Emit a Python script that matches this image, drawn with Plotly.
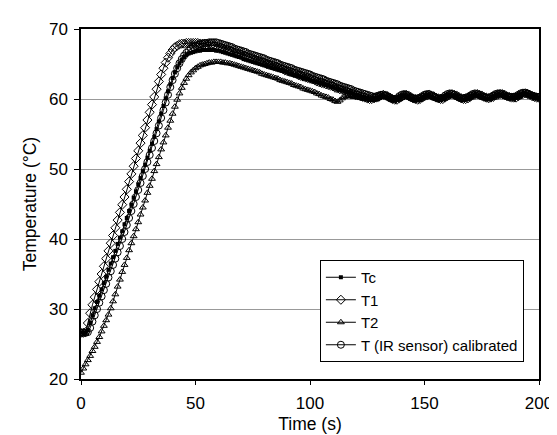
import plotly.graph_objects as go

# Time axis (s), 1 s sampling
TIME = list(range(0, 201))

TC = [
    # 0-60 s
    26.6, 26.6, 26.6, 27.0, 28.0, 29.1, 30.1, 31.0, 31.9, 32.8,
    33.7, 34.6, 35.6, 36.5, 37.4, 38.3, 39.3, 40.2, 41.1, 42.1,
    43.0, 44.0, 44.9, 45.9, 46.8, 47.8, 48.7, 49.7, 50.6, 51.6,
    52.6, 53.6, 54.6, 55.7, 56.8, 57.9, 59.0, 60.1, 61.1, 62.1,
    63.0, 63.8, 64.5, 65.1, 65.6, 66.0, 66.3, 66.5, 66.6, 66.7,
    66.8, 66.9, 66.9, 67.0, 67.0, 67.0, 67.0, 67.0, 67.0, 66.9, 66.9,
    # 61-129 s
    66.8, 66.7, 66.6, 66.5, 66.4, 66.3, 66.2, 66.1, 66.0, 65.9,
    65.7, 65.6, 65.5, 65.4, 65.3, 65.2, 65.1, 65.0, 64.9, 64.8,
    64.7, 64.6, 64.5, 64.4, 64.3, 64.2, 64.1, 64.0, 63.9, 63.8,
    63.6, 63.5, 63.4, 63.3, 63.2, 63.1, 63.0, 62.9, 62.8, 62.7,
    62.6, 62.5, 62.4, 62.3, 62.2, 62.1, 62.0, 61.9, 61.8, 61.7,
    61.5, 61.4, 61.3, 61.2, 61.1, 61.0, 60.9, 60.8, 60.7, 60.6,
    60.5, 60.4, 60.3, 60.2, 60.1, 60.0, 59.9, 59.9, 60.0,
    # 130-200 s
    60.2, 60.4, 60.4, 60.3, 60.1, 59.9, 59.8, 59.8, 59.9, 60.2,
    60.4, 60.5, 60.4, 60.2, 60.0, 59.9, 59.8, 59.9, 60.0, 60.2,
    60.4, 60.5, 60.5, 60.3, 60.1, 60.0, 59.9, 59.9, 60.0, 60.3,
    60.5, 60.6, 60.5, 60.4, 60.2, 60.0, 59.9, 59.9, 60.0, 60.1,
    60.3, 60.5, 60.6, 60.5, 60.4, 60.2, 60.1, 60.0, 60.0, 60.1,
    60.3, 60.5, 60.6, 60.6, 60.5, 60.3, 60.2, 60.1, 60.1, 60.1,
    60.2, 60.4, 60.6, 60.7, 60.7, 60.6, 60.4, 60.3, 60.2, 60.1, 60.1,
]

T1 = [
    # 0-60 s
    26.6, 26.6, 26.7, 28.0, 29.4, 30.6, 31.7, 32.8, 33.9, 35.0,
    36.1, 37.2, 38.3, 39.4, 40.5, 41.6, 42.7, 43.8, 44.9, 46.0,
    47.1, 48.2, 49.3, 50.4, 51.5, 52.6, 53.7, 54.8, 55.9, 57.0,
    58.1, 59.2, 60.3, 61.4, 62.5, 63.5, 64.4, 65.2, 65.9, 66.5,
    67.0, 67.4, 67.6, 67.8, 67.9, 67.9, 68.0, 68.0, 68.0, 68.0,
    68.0, 68.0, 67.9, 67.9, 67.9, 67.8, 67.8, 67.7, 67.6, 67.5, 67.4,
    # 61-129 s
    67.3, 67.2, 67.1, 67.0, 66.9, 66.8, 66.6, 66.5, 66.4, 66.3,
    66.2, 66.1, 66.0, 65.9, 65.7, 65.6, 65.5, 65.4, 65.3, 65.2,
    65.0, 64.9, 64.8, 64.7, 64.6, 64.5, 64.4, 64.3, 64.1, 64.0,
    63.9, 63.8, 63.7, 63.6, 63.4, 63.3, 63.2, 63.1, 63.0, 62.9,
    62.8, 62.7, 62.5, 62.4, 62.3, 62.2, 62.1, 62.0, 61.9, 61.8,
    61.6, 61.5, 61.4, 61.3, 61.2, 61.1, 60.9, 60.8, 60.7, 60.6,
    60.5, 60.4, 60.3, 60.2, 60.1, 60.0, 60.0, 60.1, 60.2,
    # 130-200 s
    60.3, 60.5, 60.6, 60.5, 60.4, 60.2, 60.0, 59.9, 59.9, 60.1,
    60.3, 60.5, 60.6, 60.5, 60.3, 60.1, 60.0, 59.9, 60.0, 60.2,
    60.4, 60.5, 60.6, 60.5, 60.4, 60.2, 60.1, 60.0, 60.0, 60.2,
    60.4, 60.6, 60.7, 60.6, 60.5, 60.3, 60.1, 60.0, 60.0, 60.1,
    60.3, 60.5, 60.6, 60.7, 60.6, 60.5, 60.3, 60.2, 60.1, 60.2,
    60.3, 60.5, 60.6, 60.7, 60.7, 60.6, 60.4, 60.3, 60.2, 60.2,
    60.2, 60.4, 60.6, 60.7, 60.8, 60.7, 60.6, 60.4, 60.3, 60.2, 60.2,
]

T2 = [
    # 0-60 s
    20.9, 21.5, 22.1, 22.7, 23.3, 24.0, 24.6, 25.3, 26.0, 26.8,
    27.6, 28.4, 29.2, 30.1, 31.1, 32.1, 33.2, 34.2, 35.3, 36.3,
    37.3, 38.4, 39.4, 40.4, 41.4, 42.4, 43.5, 44.5, 45.5, 46.6,
    47.6, 48.6, 49.7, 50.7, 51.7, 52.8, 53.8, 54.8, 55.9, 56.9,
    57.9, 58.9, 59.9, 60.8, 61.6, 62.3, 62.9, 63.4, 63.8, 64.1,
    64.4, 64.6, 64.8, 64.9, 65.0, 65.1, 65.2, 65.2, 65.3, 65.3, 65.3,
    # 61-129 s
    65.3, 65.2, 65.2, 65.1, 65.1, 65.0, 64.9, 64.8, 64.7, 64.6,
    64.5, 64.4, 64.3, 64.2, 64.1, 64.0, 63.9, 63.8, 63.6, 63.5,
    63.4, 63.3, 63.2, 63.1, 63.0, 62.9, 62.7, 62.6, 62.5, 62.4,
    62.3, 62.2, 62.0, 61.9, 61.8, 61.7, 61.5, 61.4, 61.3, 61.2,
    61.1, 61.0, 60.8, 60.7, 60.5, 60.4, 60.3, 60.2, 60.0, 59.9,
    59.7, 59.6, 59.8, 60.1, 60.3, 60.4, 60.4, 60.4, 60.3, 60.3,
    60.2, 60.2, 60.1, 60.0, 60.0, 59.9, 59.9, 59.9, 60.0,
    # 130-200 s
    60.2, 60.4, 60.5, 60.5, 60.4, 60.2, 60.0, 59.9, 59.9, 60.0,
    60.2, 60.4, 60.5, 60.4, 60.3, 60.1, 59.9, 59.9, 59.9, 60.1,
    60.3, 60.5, 60.6, 60.5, 60.4, 60.2, 60.0, 60.0, 60.0, 60.2,
    60.4, 60.5, 60.6, 60.5, 60.4, 60.2, 60.1, 60.0, 60.0, 60.1,
    60.3, 60.5, 60.6, 60.6, 60.6, 60.4, 60.3, 60.2, 60.1, 60.1,
    60.2, 60.4, 60.6, 60.7, 60.7, 60.6, 60.4, 60.3, 60.2, 60.2,
    60.2, 60.4, 60.6, 60.7, 60.8, 60.8, 60.7, 60.6, 60.4, 60.3, 60.2,
]

T_IR = [
    # 0-60 s
    26.6, 26.6, 26.6, 26.7, 27.3, 28.2, 29.1, 30.0, 30.9, 31.8,
    32.7, 33.6, 34.5, 35.4, 36.3, 37.2, 38.1, 39.0, 40.0, 41.0,
    42.0, 43.0, 44.0, 45.0, 46.0, 47.0, 48.0, 49.0, 50.0, 51.0,
    52.0, 53.0, 54.0, 55.1, 56.2, 57.3, 58.4, 59.5, 60.6, 61.7,
    62.7, 63.6, 64.4, 65.1, 65.7, 66.2, 66.6, 66.9, 67.2, 67.4,
    67.6, 67.7, 67.8, 67.9, 68.0, 68.0, 68.1, 68.1, 68.1, 68.1, 68.0,
    # 61-129 s
    67.9, 67.8, 67.7, 67.6, 67.5, 67.4, 67.2, 67.1, 67.0, 66.9,
    66.8, 66.7, 66.5, 66.4, 66.3, 66.2, 66.1, 66.0, 65.9, 65.8,
    65.6, 65.5, 65.4, 65.3, 65.2, 65.1, 64.9, 64.8, 64.7, 64.6,
    64.5, 64.4, 64.2, 64.1, 64.0, 63.9, 63.8, 63.7, 63.6, 63.5,
    63.3, 63.2, 63.1, 63.0, 62.9, 62.8, 62.6, 62.5, 62.4, 62.3,
    62.2, 62.1, 61.9, 61.8, 61.7, 61.6, 61.5, 61.4, 61.2, 61.1,
    61.0, 60.9, 60.8, 60.7, 60.6, 60.5, 60.4, 60.3, 60.4,
    # 130-200 s
    60.5, 60.6, 60.6, 60.5, 60.3, 60.1, 60.0, 60.0, 60.1, 60.4,
    60.6, 60.7, 60.6, 60.4, 60.2, 60.1, 60.0, 60.1, 60.2, 60.4,
    60.6, 60.7, 60.7, 60.5, 60.3, 60.2, 60.1, 60.1, 60.2, 60.5,
    60.7, 60.8, 60.7, 60.6, 60.4, 60.2, 60.1, 60.1, 60.2, 60.3,
    60.5, 60.7, 60.8, 60.7, 60.6, 60.4, 60.3, 60.2, 60.2, 60.3,
    60.5, 60.7, 60.8, 60.8, 60.7, 60.5, 60.4, 60.3, 60.3, 60.3,
    60.4, 60.6, 60.8, 60.9, 60.9, 60.8, 60.6, 60.5, 60.4, 60.3, 60.3,
]

for s in (TC, T1, T2, T_IR):
    assert len(s) == len(TIME), (len(s), len(TIME))

SERIES_NAMES = ["Tc", "T1", "T2", "T (IR sensor) calibrated"]
X_TICKS = [0, 50, 100, 150, 200]
Y_TICKS = [20, 30, 40, 50, 60, 70]

FONT = "Liberation Sans, Arial, sans-serif"

fig = go.Figure()
styles = [
    (TC, dict(symbol="square", size=4, color="black", line=dict(width=0))),
    (T1, dict(symbol="diamond-open", size=7, color="black", line=dict(width=1))),
    (T2, dict(symbol="triangle-up-open", size=6, color="black", line=dict(width=1))),
    (T_IR, dict(symbol="circle-open", size=7, color="black", line=dict(width=1))),
]
for name, (vals, mk) in zip(SERIES_NAMES, styles):
    fig.add_trace(go.Scatter(
        x=TIME, y=vals, name=name, mode="lines+markers",
        line=dict(color="black", width=1), marker=mk,
    ))

fig.update_layout(
    width=557, height=435,
    margin=dict(l=73, r=24, t=20, b=62),
    paper_bgcolor="white", plot_bgcolor="white",
    font=dict(family=FONT, size=17, color="black"),
    showlegend=True,
    legend=dict(
        x=0.967, y=0.34, xanchor="right", yanchor="top",
        bgcolor="white", bordercolor="black", borderwidth=1,
        font=dict(family=FONT, size=15, color="black"),
        tracegroupgap=0, itemwidth=30,
    ),
)
fig.update_xaxes(
    range=[0, 200], tickvals=X_TICKS, ticks="outside", ticklen=4,
    tickcolor="black", showline=True, linecolor="black", linewidth=1.5,
    mirror=True, showgrid=False, zeroline=False, ticklabelstandoff=4,
    title=dict(text="Time (s)", font=dict(size=17.5), standoff=6),
    tickfont=dict(size=17),
)
fig.update_yaxes(
    range=[20, 70], tickvals=Y_TICKS, ticks="outside", ticklen=5,
    tickcolor="black", showline=True, linecolor="black", linewidth=1.5,
    mirror=True, showgrid=True, gridcolor="#999999", gridwidth=1,
    zeroline=False, ticklabelstandoff=3,
    title=dict(text="Temperature (°C)", font=dict(size=17.5), standoff=8),
    tickfont=dict(size=17),
)

fig.write_html("out.html")
